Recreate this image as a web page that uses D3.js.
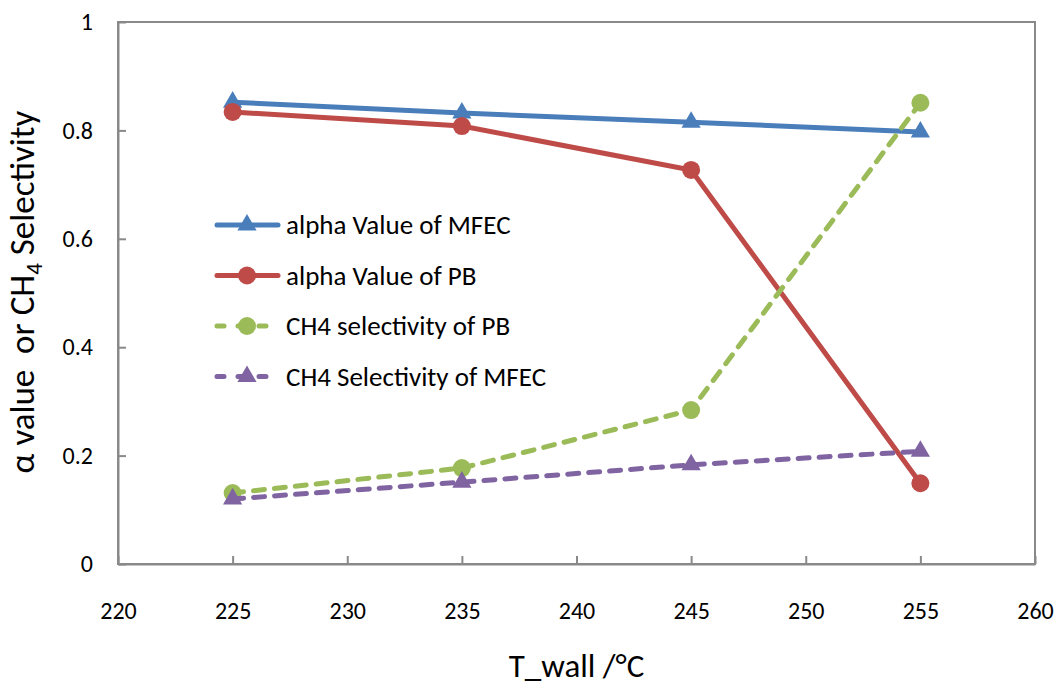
<!DOCTYPE html>
<html>
<head>
<meta charset="utf-8">
<script src="https://cdn.jsdelivr.net/npm/d3@7"></script>
<style>
  body { margin: 0; background: #fff; }
  svg { display: block; font-family: Carlito, Lato, "Open Sans", sans-serif; }
  .pre { white-space: pre; }
</style>
</head>
<body>
<svg id="chart" width="1058" height="689"></svg>
<script>
// data
const temps = [225, 235, 245, 255];
const alphaMFEC = [0.852, 0.832, 0.815, 0.797];
const alphaPB = [0.834, 0.808, 0.727, 0.149];
const ch4PB = [0.131, 0.177, 0.284, 0.851];
const ch4MFEC = [0.120, 0.151, 0.183, 0.208];
const xTicks = [220, 225, 230, 235, 240, 245, 250, 255, 260];
const yTicks = [0, 0.2, 0.4, 0.6, 0.8, 1];

const series = [
  { name: 'alpha Value of MFEC', values: alphaMFEC, color: '#4A7EBB', marker: 'triangle', dashed: false },
  { name: 'alpha Value of PB', values: alphaPB, color: '#BE4B48', marker: 'circle', dashed: false },
  { name: 'CH4 selectivity of PB', values: ch4PB, color: '#9BBB59', marker: 'circle', dashed: true },
  { name: 'CH4 Selectivity of MFEC', values: ch4MFEC, color: '#8064A2', marker: 'triangle', dashed: true }
];

const svg = d3.select('#chart');
const plotL = 118, plotR = 1035, plotT = 22, plotB = 564;

const x = d3.scaleLinear().domain([220, 260]).range([plotL, plotR]);
const y = d3.scaleLinear().domain([0, 1]).range([plotB, plotT]);

const axisColor = '#898989';

// plot border
svg.append('rect')
  .attr('x', plotL).attr('y', plotT)
  .attr('width', plotR - plotL).attr('height', plotB - plotT)
  .attr('fill', 'none')
  .attr('stroke', axisColor)
  .attr('stroke-width', 2);

// x axis (ticks pointing inward)
const xAxis = svg.append('g')
  .attr('transform', `translate(0,${plotB})`)
  .call(d3.axisBottom(x).tickValues(xTicks).tickSizeInner(-8).tickSizeOuter(0).tickPadding(38).tickFormat(d3.format('d')))
  .attr('font-family', null)
  .attr('font-size', 24);
xAxis.select('.domain').attr('stroke', axisColor).attr('stroke-width', 2);
xAxis.selectAll('.tick line').attr('stroke', axisColor).attr('stroke-width', 2);
xAxis.selectAll('.tick text').attr('fill', '#000');

// y axis
const yAxis = svg.append('g')
  .attr('transform', `translate(${plotL},0)`)
  .call(d3.axisLeft(y).tickValues(yTicks).tickSizeInner(-8).tickSizeOuter(0).tickPadding(25).tickFormat(d => String(+d.toFixed(1))))
  .attr('font-family', null)
  .attr('font-size', 24);
yAxis.select('.domain').attr('stroke', axisColor).attr('stroke-width', 2);
yAxis.selectAll('.tick line').attr('stroke', axisColor).attr('stroke-width', 2);
yAxis.selectAll('.tick text').attr('fill', '#000');

// axis titles
svg.append('text')
  .attr('class', 'pre')
  .attr('x', (plotL + plotR) / 2)
  .attr('y', 677)
  .attr('text-anchor', 'middle')
  .attr('font-size', 33)
  .text('T_wall /°C');

const yTitle = svg.append('text')
  .attr('class', 'pre')
  .attr('transform', `translate(34,292) rotate(-90)`)
  .attr('text-anchor', 'middle')
  .attr('font-size', 35);
yTitle.append('tspan').text('α value  or CH');
yTitle.append('tspan').attr('font-size', 23).attr('dy', 8).text('4');
yTitle.append('tspan').attr('dy', -8).text(' Selectivity');

function drawMarker(g, type, cx, cy, color) {
  if (type === 'circle') {
    g.append('circle').attr('cx', cx).attr('cy', cy).attr('r', 9).attr('fill', color);
  } else {
    g.append('path')
      .attr('d', d3.symbol().type(d3.symbolTriangle).size(160)())
      .attr('transform', `translate(${cx},${cy})`)
      .attr('fill', color);
  }
}

const line = d3.line().x(d => x(d[0])).y(d => y(d[1]));

series.forEach(s => {
  const g = svg.append('g');
  const pts = temps.map((t, i) => [t, s.values[i]]);
  g.append('path')
    .datum(pts)
    .attr('d', line)
    .attr('fill', 'none')
    .attr('stroke', s.color)
    .attr('stroke-width', 5)
    .attr('stroke-linecap', 'round')
    .attr('stroke-dasharray', s.dashed ? '11,10' : null);
  pts.forEach(p => drawMarker(g, s.marker, x(p[0]), y(p[1]), s.color));
});

// legend
const legend = svg.append('g');
series.forEach((s, i) => {
  const ly = 225 + i * 50.5;
  const row = legend.append('g');
  row.append('line')
    .attr('x1', 217).attr('x2', 278)
    .attr('y1', ly).attr('y2', ly)
    .attr('stroke', s.color)
    .attr('stroke-width', 5)
    .attr('stroke-linecap', 'round')
    .attr('stroke-dasharray', s.dashed ? '7,14' : null);
  drawMarker(row, s.marker, 247, ly, s.color);
  row.append('text')
    .attr('x', 286)
    .attr('y', ly + 9)
    .attr('font-size', 27)
    .text(s.name);
});
</script>
</body>
</html>
